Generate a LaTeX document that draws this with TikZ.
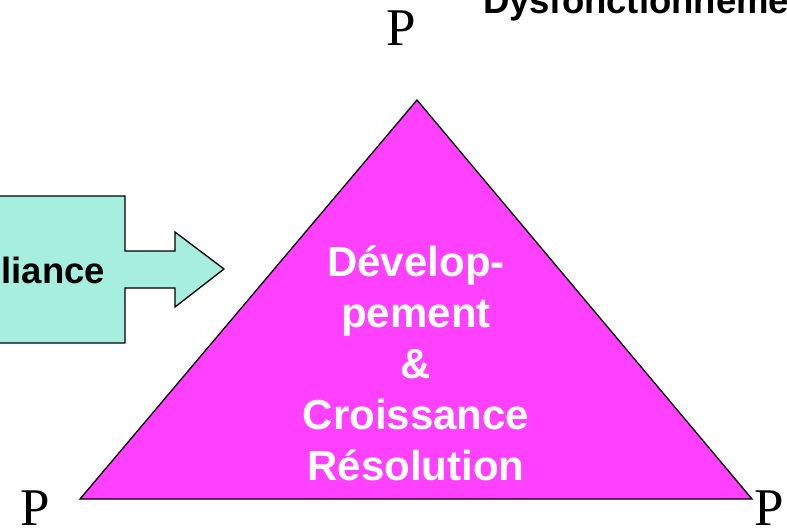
\documentclass[tikz,border=0pt]{standalone}
\usepackage{fontspec}
\setmainfont{Liberation Serif}
\newfontfamily\sidesans{Liberation Sans}
\definecolor{trianglepink}{HTML}{FF40FF}
\definecolor{calloutgreen}{HTML}{A6EEDD}
\usetikzlibrary{calc}

\begin{document}
\begin{tikzpicture}[
    x=1pt, y=-1pt, line join=miter,
    every node/.style={inner sep=0pt, outer sep=0pt},
    pole/.style={font=\fontsize{53}{53}\selectfont, anchor=base west},
    side_text/.style={font=\sidesans\bfseries\fontsize{36.5}{42}\selectfont},
    inner_text/.style={font=\sidesans\bfseries\fontsize{42}{51}\selectfont, text=white, align=center}
]
\useasboundingbox (0,0) rectangle (787,528);
% triangle
\coordinate (apex) at (417,100);
\coordinate (base_left) at (80,499);
\coordinate (base_right) at (752,499);
\draw[fill=trianglepink, line width=1.3pt] (apex) -- (base_right) -- (base_left) -- cycle;
\node (growth_text) [inner_text] at (416,363) {Dévelop-\\pement\hspace*{8pt}\\\&\\Croissance\\Résolution};
% callout arrow on the left
\draw[fill=calloutgreen, line width=1.3pt] (-5,196) -- (125,196) -- (125,251) -- (175,251) -- (175,232)
    -- (224,269) -- (175,307) -- (175,288) -- (125,288) -- (125,343) -- (-5,343) -- cycle;
\node (alliance_text) [side_text, anchor=base east] at (105,283) {liance};
% poles
\node (pole_top) [pole] at (386,45) {P};
\node (pole_left) [pole] at (20,525) {P};
\node (pole_right) [pole] at (754,525) {P};
\node (dysfunction_text) [side_text, anchor=base west] at (483,13) {Dysfonctionneme};
\end{tikzpicture}
\end{document}
